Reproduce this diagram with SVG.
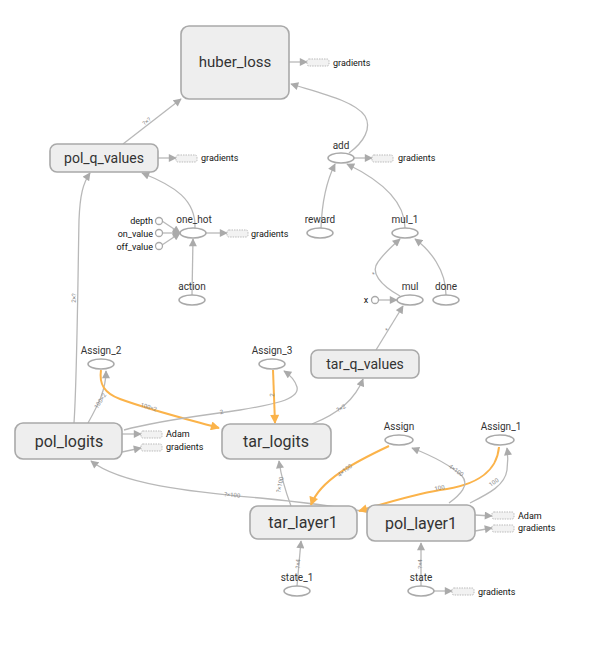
<svg xmlns="http://www.w3.org/2000/svg" width="592" height="663" viewBox="0 0 592 663">
<style>
.box{fill:#eeeeee;stroke:#a9a9a9;stroke-width:1.6}
.op{fill:#ffffff;stroke:#a9a9a9;stroke-width:1.5}
.c{fill:#ffffff;stroke:#a9a9a9;stroke-width:1.3}
.aux{fill:#f2f2f2;stroke:#bbbbbb;stroke-width:1;stroke-dasharray:1.5,1}
.e{fill:none;stroke:#b8b8b8;stroke-width:1.3}
.o{fill:none;stroke:#fbb34a;stroke-width:2}
.big{font-family:Roboto,"Liberation Sans",sans-serif;fill:#333;text-anchor:middle}
.lbl{font-family:Roboto,"Liberation Sans",sans-serif;font-size:10px;fill:#333;text-anchor:middle}
.sm{font-family:Roboto,"Liberation Sans",sans-serif;font-size:9px;fill:#111}
.el{font-family:Roboto,"Liberation Sans",sans-serif;font-size:6px;fill:#888;text-anchor:middle}
</style>
<defs>
<marker id="ag" viewBox="0 0 10 10" refX="9" refY="5" markerWidth="9" markerHeight="8" markerUnits="userSpaceOnUse" orient="auto"><path d="M0,0L10,5L0,10z" fill="#aaaaaa"/></marker>
<marker id="ao" viewBox="0 0 10 10" refX="9" refY="5" markerWidth="10" markerHeight="9" markerUnits="userSpaceOnUse" orient="auto"><path d="M0,0L10,5L0,10z" fill="#fbb34a"/></marker>
</defs>
<g id="connectors">
<path class="e" d="M123,144L181,99" marker-end="url(#ag)"/>
<text class="el" transform="translate(148,123) rotate(-38)">?×?</text>
<path class="e" d="M158,158L176,158" marker-end="url(#ag)"/>
<path class="e" d="M289,62L307,62" marker-end="url(#ag)"/>
<path class="e" d="M349,153C364,142 372,128 365,116C355,101 320,93 291,84" marker-end="url(#ag)"/>
<path class="e" d="M354,158L372,158" marker-end="url(#ag)"/>
<path class="e" d="M195,228C196,200 175,186 142,173" marker-end="url(#ag)"/>
<path class="e" d="M162,221L180,233" marker-end="url(#ag)"/>
<path class="e" d="M163,233L180,233" marker-end="url(#ag)"/>
<path class="e" d="M162,245L180,233" marker-end="url(#ag)"/>
<path class="e" d="M206,233L227,233" marker-end="url(#ag)"/>
<path class="e" d="M192,295L193,239" marker-end="url(#ag)"/>
<path class="e" d="M321,228C322,200 327,180 335,164" marker-end="url(#ag)"/>
<path class="e" d="M405,228C405,200 380,180 347,164" marker-end="url(#ag)"/>
<path class="e" d="M400,296C380,285 370,272 378,262C385,252 392,246 400,239" marker-end="url(#ag)"/>
<text class="el" transform="translate(376,275) rotate(-60)">*</text>
<path class="e" d="M446,295C446,270 430,250 415,239" marker-end="url(#ag)"/>
<path class="e" d="M379,300L397,300" marker-end="url(#ag)"/>
<path class="e" d="M376,350L403,306" marker-end="url(#ag)"/>
<text class="el" transform="translate(389,331) rotate(-58)">*</text>
<path class="e" d="M74,423C77,380 78,270 79,220C80,195 83,183 90,173" marker-end="url(#ag)"/>
<text class="el" transform="translate(76,298) rotate(-88)">2×?</text>
<path class="e" d="M88,423C98,405 106,390 106,371" marker-end="url(#ag)"/>
<text class="el" transform="translate(102,402) rotate(-58)">100×2</text>
<path class="o" d="M101,370C99,384 104,393 120,399C150,410 190,420 219,428" marker-end="url(#ao)"/>
<text class="el" transform="translate(148,409) rotate(18)">100×2</text>
<path class="e" d="M124,430C160,420 200,416 240,410C270,405 300,400 297,387C295,380 290,375 284,371" marker-end="url(#ag)"/>
<text class="el" transform="translate(222,414) rotate(-10)">2</text>
<path class="o" d="M273,370L275,423" marker-end="url(#ao)"/>
<text class="el" transform="translate(274,395) rotate(-88)">2</text>
<path class="e" d="M312,424C335,415 355,400 363,379" marker-end="url(#ag)"/>
<text class="el" transform="translate(342,410) rotate(-30)">?×2</text>
<path class="e" d="M122,434L141,434" marker-end="url(#ag)"/>
<path class="e" d="M122,452L141,448" marker-end="url(#ag)"/>
<path class="e" d="M368,512C330,505 300,502 260,498C190,492 120,484 91,461" marker-end="url(#ag)"/>
<text class="el" transform="translate(232,497) rotate(5)">?×100</text>
<path class="e" d="M291,506C285,490 281,475 279,461" marker-end="url(#ag)"/>
<text class="el" transform="translate(282,485) rotate(-78)">?×100</text>
<path class="o" d="M389,446C355,462 320,480 311,505" marker-end="url(#ao)"/>
<text class="el" transform="translate(346,472) rotate(-38)">4×100</text>
<path class="o" d="M499,447C497,470 480,485 440,490C410,495 380,505 359,511" marker-end="url(#ao)"/>
<text class="el" transform="translate(440,490) rotate(-12)">100</text>
<path class="e" d="M449,503C460,495 470,485 462,476C450,465 430,455 412,448" marker-end="url(#ag)"/>
<text class="el" transform="translate(455,472) rotate(35)">4×100</text>
<path class="e" d="M470,503C490,493 505,485 507,470C508,462 508,455 507,448" marker-end="url(#ag)"/>
<text class="el" transform="translate(495,484) rotate(-35)">100</text>
<path class="e" d="M475,515L492,516" marker-end="url(#ag)"/>
<path class="e" d="M475,531L492,528" marker-end="url(#ag)"/>
<path class="e" d="M297,586L301,541" marker-end="url(#ag)"/>
<text class="el" transform="translate(300,564) rotate(-86)">?×4</text>
<path class="e" d="M421,586L421,543" marker-end="url(#ag)"/>
<text class="el" transform="translate(422,564) rotate(-90)">?×4</text>
<path class="e" d="M434,591L452,591" marker-end="url(#ag)"/>
</g>
<g id="huber_loss"><rect class="box" x="181" y="26" width="108" height="73" rx="8"/><text class="big" x="235" y="67" font-size="15">huber_loss</text></g>
<g id="huber_grad"><rect class="aux" x="307" y="59" width="22" height="7" rx="2"/><text class="sm" x="333" y="66">gradients</text></g>
<g id="pol_q_values"><rect class="box" x="50" y="144" width="108" height="28" rx="7"/><text class="big" x="104" y="163" font-size="14">pol_q_values</text></g>
<g id="polq_grad"><rect class="aux" x="176" y="155" width="21" height="7" rx="2"/><text class="sm" x="201" y="161">gradients</text></g>
<g id="add"><ellipse class="op" cx="341" cy="158" rx="13" ry="5"/><text class="lbl" x="341" y="149">add</text></g>
<g id="add_grad"><rect class="aux" x="372" y="155" width="21" height="7" rx="2"/><text class="sm" x="398" y="161">gradients</text></g>
<g id="one_hot"><ellipse class="op" cx="193" cy="233" rx="13" ry="5"/><text class="lbl" x="194" y="223">one_hot</text></g>
<g id="depth"><circle class="c" cx="159" cy="221" r="3.5"/><text class="sm" x="153" y="224" text-anchor="end">depth</text></g>
<g id="on_value"><circle class="c" cx="159" cy="233" r="3.5"/><text class="sm" x="153" y="237" text-anchor="end">on_value</text></g>
<g id="off_value"><circle class="c" cx="159" cy="246" r="3.5"/><text class="sm" x="153" y="250" text-anchor="end">off_value</text></g>
<g id="onehot_grad"><rect class="aux" x="227" y="230" width="21" height="7" rx="2"/><text class="sm" x="251" y="237">gradients</text></g>
<g id="action"><ellipse class="op" cx="192" cy="300" rx="13" ry="5"/><text class="lbl" x="192" y="290">action</text></g>
<g id="reward"><ellipse class="op" cx="320" cy="233" rx="13" ry="5"/><text class="lbl" x="320" y="223">reward</text></g>
<g id="mul_1"><ellipse class="op" cx="405" cy="233" rx="13" ry="5"/><text class="lbl" x="405" y="223">mul_1</text></g>
<g id="mul"><ellipse class="op" cx="410" cy="300" rx="13" ry="5"/><text class="lbl" x="410" y="290">mul</text></g>
<g id="x"><circle class="c" cx="375" cy="300" r="3.5"/><text class="sm" x="366" y="303" text-anchor="middle">x</text></g>
<g id="done"><ellipse class="op" cx="446" cy="300" rx="13" ry="5"/><text class="lbl" x="446" y="290">done</text></g>
<g id="tar_q_values"><rect class="box" x="311" y="350" width="108" height="28" rx="7"/><text class="big" x="365" y="369" font-size="14">tar_q_values</text></g>
<g id="Assign_2"><ellipse class="op" cx="101" cy="364" rx="13" ry="5"/><text class="lbl" x="101" y="354">Assign_2</text></g>
<g id="Assign_3"><ellipse class="op" cx="272" cy="364" rx="13" ry="5"/><text class="lbl" x="272" y="354">Assign_3</text></g>
<g id="pol_logits"><rect class="box" x="15" y="423" width="107" height="36" rx="8"/><text class="big" x="69" y="447" font-size="16">pol_logits</text></g>
<g id="pollog_aux"><rect class="aux" x="141" y="431" width="21" height="7" rx="2"/><text class="sm" x="166" y="437">Adam</text><rect class="aux" x="141" y="444" width="21" height="7" rx="2"/><text class="sm" x="166" y="450">gradients</text></g>
<g id="tar_logits"><rect class="box" x="222" y="424" width="109" height="35" rx="8"/><text class="big" x="276" y="447" font-size="16">tar_logits</text></g>
<g id="Assign"><ellipse class="op" cx="399" cy="440" rx="14" ry="5"/><text class="lbl" x="399" y="430">Assign</text></g>
<g id="Assign_1"><ellipse class="op" cx="500" cy="440" rx="14" ry="5"/><text class="lbl" x="501" y="430">Assign_1</text></g>
<g id="tar_layer1"><rect class="box" x="250" y="506" width="107" height="33" rx="8"/><text class="big" x="303" y="528" font-size="16">tar_layer1</text></g>
<g id="pol_layer1"><rect class="box" x="367" y="505" width="108" height="36" rx="8"/><text class="big" x="421" y="529" font-size="16">pol_layer1</text></g>
<g id="pollay_aux"><rect class="aux" x="492" y="512" width="22" height="7" rx="2"/><text class="sm" x="518" y="519">Adam</text><rect class="aux" x="492" y="525" width="22" height="7" rx="2"/><text class="sm" x="518" y="531">gradients</text></g>
<g id="state_1"><ellipse class="op" cx="297" cy="591" rx="13" ry="5"/><text class="lbl" x="297" y="581">state_1</text></g>
<g id="state"><ellipse class="op" cx="421" cy="591" rx="13" ry="5"/><text class="lbl" x="421" y="581">state</text></g>
<g id="state_grad"><rect class="aux" x="452" y="588" width="22" height="7" rx="2"/><text class="sm" x="478" y="595">gradients</text></g>
</svg>
